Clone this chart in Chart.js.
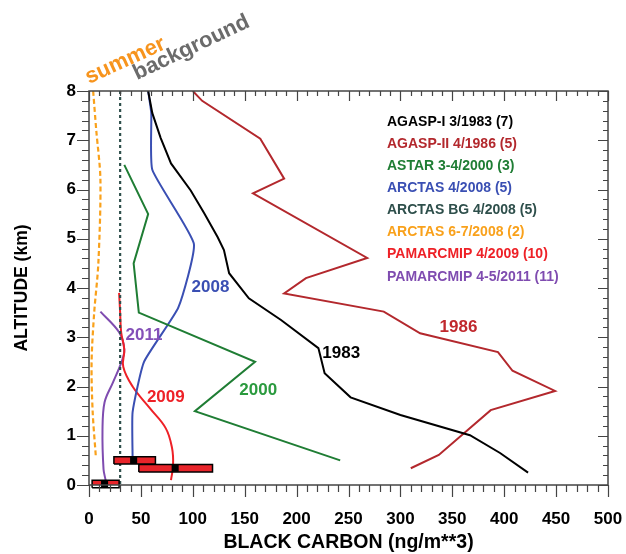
<!DOCTYPE html>
<html>
<head>
<meta charset="utf-8">
<script src="https://cdn.jsdelivr.net/npm/chart.js@4.4.0/dist/chart.umd.min.js"></script>
<style>
    html, body { margin: 0; padding: 0; background: #fff; }
    #wrap { width: 626px; height: 554px; }
</style>
</head>
<body>
<div id="wrap"><canvas id="grafico" width="626" height="554"></canvas></div>
<script>
// [black carbon ng/m3, altitude km]
const agasp1 = [[57, 8], [61, 7.55], [69, 7.05], [79, 6.53], [98, 5.98], [111, 5.52], [124, 5.03], [130, 4.77],
    [135, 4.3], [154, 3.79], [185, 3.35], [221, 2.78], [227, 2.27], [252, 1.78], [300, 1.42], [367, 1.01], [396, 0.65], [423, 0.25]];
const agasp2 = [[100, 8], [109, 7.8], [165, 7.03], [188, 6.22], [158, 5.92], [268, 4.61], [209, 4.2], [188, 3.89],
    [284, 3.52], [319, 3.08], [394, 2.7], [408, 2.32], [449, 1.91], [387, 1.52], [337, 0.61], [310, 0.34]];
const astar = [[34, 6.5], [57, 5.5], [43, 4.5], [48, 3.5], [160, 2.5], [102, 1.5], [242, 0.5]];
const arctas = [[57, 8], [60, 7.55], [61, 6.4], [101, 4.9], [86, 3.6], [53, 2.5], [42, 1.48], [42, 0.55]];
const arctasBG = [[30, 8], [30, 0]];
const arctasSummer = [[4, 8], [7, 7.2], [11, 6.2], [9, 4.5], [5, 3.5], [2.5, 2.5], [3.5, 1.5], [6.5, 0.6]];
const pamarcmip09 = [[29, 3.9], [30, 3.5], [31, 3.1], [34, 2.75], [33, 2.4], [42, 2.0], [59, 1.55], [74, 1.15], [80, 0.75], [81, 0.4], [79, 0.1]];
const pamarcmip11 = [[11, 3.52], [29, 3.1], [34, 2.75], [31, 2.48], [23, 2.08], [15, 1.68], [13, 1.12], [14, 0.32], [16, 0.1]];

// boxes near the surface
const cajaAlt = [0.5, 0.34, 0.02];
const cajaMin = [24, 48, 3];
const cajaMax = [64, 119, 29];
const cajaMed = [43, 83, 15];

const leyenda = ["AGASP-I 3/1983 (7)", "AGASP-II 4/1986 (5)", "ASTAR 3-4/2000 (3)", "ARCTAS 4/2008 (5)",
    "ARCTAS BG 4/2008 (5)", "ARCTAS 6-7/2008 (2)", "PAMARCMIP 4/2009 (10)", "PAMARCMIP 4-5/2011 (11)"];
const colores = ["#000000", "#b3282d", "#1f7d34", "#3a4fb3", "#2e4f4b", "#f9a11b", "#ee2127", "#7f4cb0"];

// year labels placed in data coordinates
const etiquetas = ["1983", "1986", "2000", "2008", "2011", "2009"];
const etiquetaX = [243, 356, 163, 117, 53, 74];
const etiquetaY = [2.68, 3.2, 1.93, 4.02, 3.04, 1.79];
const etiquetaColor = ["#000000", "#c0282d", "#2a9a3e", "#3a4fb3", "#8450b8", "#ee2127"];

const xTicks = [0, 50, 100, 150, 200, 250, 300, 350, 400, 450, 500];
const yTicks = [0, 1, 2, 3, 4, 5, 6, 7, 8];

const pts = arr => arr.map(p => ({ x: p[0], y: p[1] }));
const HALF = 0.075;

function linea(datos, color, extra) {
    return Object.assign({
        data: pts(datos),
        showLine: true,
        borderColor: color,
        borderWidth: 2,
        pointRadius: 0,
        fill: false,
        tension: 0
    }, extra || {});
}

const cajas = cajaAlt.map((a, i) => ({
    data: [
        { x: cajaMin[i], y: a - HALF }, { x: cajaMax[i], y: a - HALF },
        { x: cajaMax[i], y: a + HALF }, { x: cajaMin[i], y: a + HALF },
        { x: cajaMin[i], y: a - HALF }
    ],
    showLine: true,
    borderColor: "#000",
    borderWidth: 1.5,
    backgroundColor: "#e8242a",
    fill: "shape",
    pointRadius: 0,
    clip: false,
    order: -1
}));

const centros = {
    data: cajaAlt.map((a, i) => ({ x: cajaMed[i], y: a })),
    showLine: false,
    pointStyle: "rect",
    pointRadius: 5,
    backgroundColor: "#000",
    borderWidth: 0,
    clip: false,
    order: -2
};

const marcas = {
    id: "marcas",
    afterDraw(chart) {
        const { ctx, chartArea: ca, scales: { x, y } } = chart;
        ctx.save();
        ctx.strokeStyle = "#444";
        ctx.lineWidth = 1.2;
        ctx.beginPath();
        for (let v = 0; v <= 500; v += 10) {
            const px = Math.round(x.getPixelForValue(v)) + 0.5;
            const len = v % 50 === 0 ? 12 : 7;
            ctx.moveTo(px, ca.bottom); ctx.lineTo(px, ca.bottom + len);
            ctx.moveTo(px, ca.top); ctx.lineTo(px, ca.top + len - 2);
        }
        for (let k = 0; k <= 40; k++) {
            const py = Math.round(y.getPixelForValue(k / 5)) + 0.5;
            const len = k % 5 === 0 ? 12 : 7;
            ctx.moveTo(ca.left, py); ctx.lineTo(ca.left - len, py);
            ctx.moveTo(ca.right, py); ctx.lineTo(ca.right - len + 2, py);
        }
        ctx.stroke();
        ctx.lineWidth = 1.5;
        ctx.strokeRect(ca.left, ca.top, ca.right - ca.left, ca.bottom - ca.top);

        // legend
        ctx.font = "bold 14px 'Liberation Sans', Arial, sans-serif";
        ctx.textBaseline = "middle";
        ctx.textAlign = "left";
        leyenda.forEach((t, i) => {
            ctx.fillStyle = colores[i];
            ctx.fillText(t, 387, 122 + i * 22.1);
        });

        // year labels
        ctx.font = "bold 17px 'Liberation Sans', Arial, sans-serif";
        ctx.textAlign = "center";
        etiquetas.forEach((t, i) => {
            ctx.fillStyle = etiquetaColor[i];
            ctx.fillText(t, x.getPixelForValue(etiquetaX[i]), y.getPixelForValue(etiquetaY[i]));
        });

        // summer / background
        ctx.font = "bold 22px 'Liberation Sans', Arial, sans-serif";
        ctx.textAlign = "left";
        ctx.textBaseline = "alphabetic";
        ctx.save();
        ctx.translate(89, 84);
        ctx.rotate(-0.43);
        ctx.fillStyle = "#f7941d";
        ctx.fillText("summer", 0, 0);
        ctx.restore();
        ctx.save();
        ctx.translate(137, 80);
        ctx.rotate(-0.44);
        ctx.fillStyle = "#6b6b6b";
        ctx.fillText("background", 0, 0);
        ctx.restore();
        ctx.restore();
    }
};

const tickFont = { family: "'Liberation Sans', Arial, sans-serif", size: 17, weight: "bold" };

new Chart(document.getElementById("grafico").getContext("2d"), {
    type: "scatter",
    data: {
        datasets: [
            linea(agasp1, colores[0]),
            linea(agasp2, colores[1]),
            linea(astar, colores[2]),
            linea(arctas, colores[3], { tension: 0.15 }),
            linea(arctasBG, colores[4], { borderDash: [3, 3], borderWidth: 2.2 }),
            linea(arctasSummer, colores[5], { borderDash: [5, 3], borderWidth: 2.2, tension: 0.3 }),
            ...cajas,
            centros,
            linea(pamarcmip09, colores[6], { tension: 0.4 }),
            linea(pamarcmip11, colores[7], { tension: 0.35 })
        ]
    },
    options: {
        responsive: false,
        animation: false,
        layout: { padding: { top: 91, right: 18, left: 0, bottom: 0 } },
        plugins: { legend: { display: false }, tooltip: { enabled: false } },
        scales: {
            x: {
                type: "linear",
                min: 0, max: 500,
                afterBuildTicks: s => { s.ticks = xTicks.map(v => ({ value: v })); },
                afterFit: s => { s.height = 69; s.paddingRight = 0; s.paddingLeft = 0; },
                grid: { display: false, drawTicks: false },
                border: { display: false },
                ticks: { font: tickFont, color: "#000", padding: 24, maxRotation: 0 },
                title: {
                    display: true, text: "BLACK CARBON (ng/m**3)", color: "#000",
                    font: { family: "'Liberation Sans', Arial, sans-serif", size: 19.5, weight: "bold" },
                    padding: { top: 4, bottom: 0 }
                }
            },
            y: {
                type: "linear",
                min: 0, max: 8,
                afterBuildTicks: s => { s.ticks = yTicks.map(v => ({ value: v })); },
                afterFit: s => { s.width = 89; s.paddingTop = 0; s.paddingBottom = 0; },
                grid: { display: false, drawTicks: false },
                border: { display: false },
                ticks: { font: tickFont, color: "#000", padding: 13 },
                title: {
                    display: true, text: "ALTITUDE (km)", color: "#000",
                    font: { family: "'Liberation Sans', Arial, sans-serif", size: 17.5, weight: "bold" },
                    padding: { top: 12, bottom: 0 }
                }
            }
        }
    },
    plugins: [marcas]
});
</script>
</body>
</html>
